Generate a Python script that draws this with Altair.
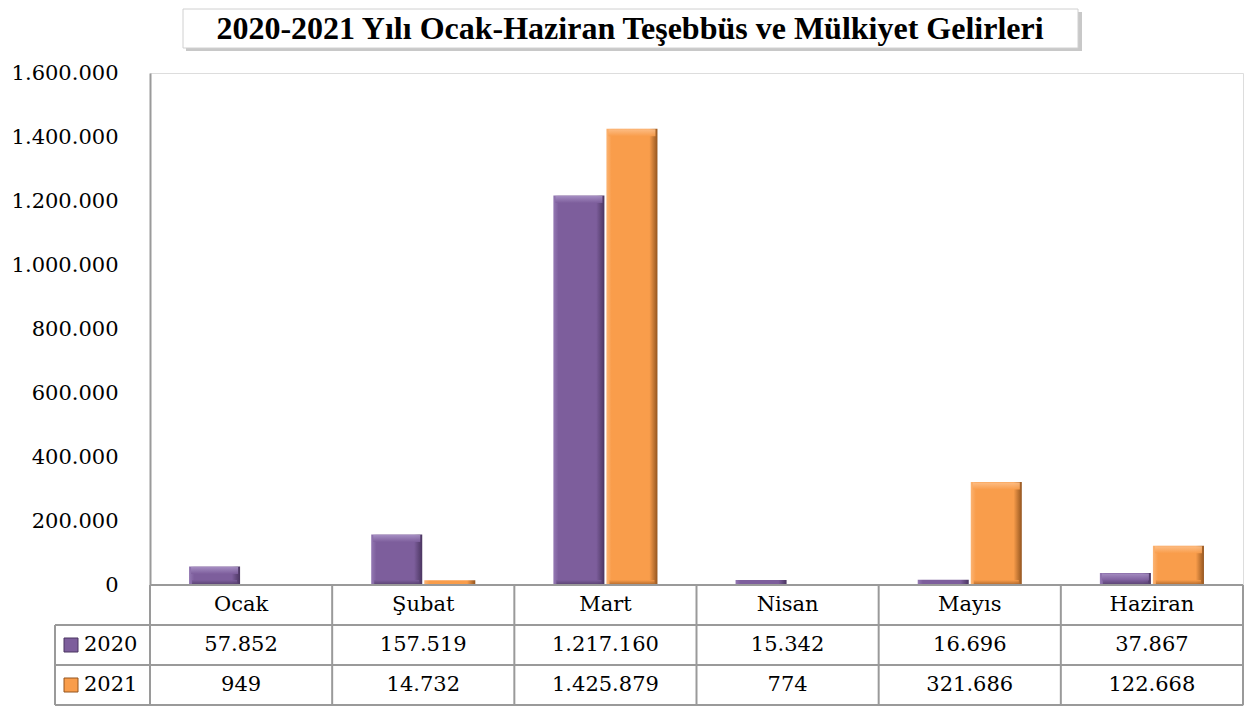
import altair as alt
import pandas as pd

months = ["Ocak", "Şubat", "Mart", "Nisan", "Mayıs", "Haziran"]
years = ["2020", "2021"]
v2020 = [57852, 157519, 1217160, 15342, 16696, 37867]
v2021 = [949, 14732, 1425879, 774, 321686, 122668]
y_ticks = [0, 200000, 400000, 600000, 800000, 1000000, 1200000, 1400000, 1600000]

PURPLE = "#7D5E9C"
ORANGE = "#F99D4B"
FONT = "DejaVu Serif"
GRID = "#9A9A9A"

W = 1093          # plot + table width
PH = 512          # bar plot height
ROW = 40          # table row height
H = PH + 3 * ROW  # total drawing height


def tr(v):
    return f"{v:,}".replace(",", ".")


rows = []
for m, a, b in zip(months, v2020, v2021):
    rows.append({"month": m, "year": "2020", "value": a, "label": tr(a)})
    rows.append({"month": m, "year": "2021", "value": b, "label": tr(b)})
df = pd.DataFrame(rows)
dm = pd.DataFrame({"month": months})
one = pd.DataFrame({"k": [0]})

xscale = alt.Scale(domain=months, paddingInner=0, paddingOuter=0)
xenc = alt.X("month:N", sort=months, scale=xscale, axis=None)
yscale = alt.Scale(domain=[0, 1600000], range=[PH, 0], nice=False, zero=True)
yenc = alt.Y("value:Q", scale=yscale,
             axis=alt.Axis(values=y_ticks,
                           labelExpr="replace(format(datum.value, ','), regexp(',', 'g'), '.')",
                           labelFont=FONT, labelFontSize=21, labelColor="black",
                           labelPadding=32, ticks=False, grid=False,
                           domainColor=GRID, domainWidth=2, title=None))
xoff = alt.XOffset("year:N",
                   scale=alt.Scale(domain=years, paddingInner=0.038, paddingOuter=0.736))


def hgrad(light, face, dark):
    return alt.LinearGradient(
        gradient="linear", x1=0, x2=1, y1=0, y2=0,
        stops=[alt.GradientStop(offset=0, color=light),
               alt.GradientStop(offset=0.1, color=face),
               alt.GradientStop(offset=0.84, color=face),
               alt.GradientStop(offset=1, color=dark)])


def vgrad(c1, c2):
    return alt.LinearGradient(
        gradient="linear", x1=0, x2=0, y1=0, y2=1,
        stops=[alt.GradientStop(offset=0, color=c1),
               alt.GradientStop(offset=1, color=c2)])


def bar_layers(year, light, face, dark, top, bottom):
    d = df[df.year == year]
    base = alt.Chart(d).mark_bar(color=hgrad(light, face, dark)).encode(
        x=xenc, y=yenc, xOffset=xoff)
    big = d[d.value > 35000]
    topb = alt.Chart(big).mark_tick(color=vgrad(top, face), thickness=7, size=47,
                                    opacity=0.9, orient="horizontal").encode(
        x=xenc, y=alt.Y("value:Q", scale=yscale), xOffset=xoff, yOffset=alt.value(4))
    botb = alt.Chart(big.assign(z=0)).mark_tick(color=vgrad(face, bottom), thickness=4,
                                                size=45, opacity=0.8,
                                                orient="horizontal").encode(
        x=xenc, y=alt.Y("z:Q", scale=yscale), xOffset=xoff, yOffset=alt.value(-3))
    return [base, topb, botb]


bars20 = bar_layers("2020", "#9479B3", PURPLE, "#4A3560", "#A992C6", "#57406F")
bars21 = bar_layers("2021", "#FBB474", ORANGE, "#94551F", "#FDC08A", "#B0672A")

# table texts
cat_txt = alt.Chart(dm).mark_text(font=FONT, fontSize=21, color="black").encode(
    x=xenc, y=alt.value(PH + ROW / 2), text="month:N")
t20 = alt.Chart(df[df.year == "2020"]).mark_text(font=FONT, fontSize=21, color="black").encode(
    x=xenc, y=alt.value(PH + ROW * 1.5), text="label:N")
t21 = alt.Chart(df[df.year == "2021"]).mark_text(font=FONT, fontSize=21, color="black").encode(
    x=xenc, y=alt.value(PH + ROW * 2.5), text="label:N")

hdr = pd.DataFrame({"year": years})
hdr_txt = alt.Chart(hdr[hdr.year == "2020"]).mark_text(
    font=FONT, fontSize=21, color="black", align="left").encode(
    x=alt.value(-66), y=alt.value(PH + ROW * 1.5), text="year:N")
hdr_txt2 = alt.Chart(hdr[hdr.year == "2021"]).mark_text(
    font=FONT, fontSize=21, color="black", align="left").encode(
    x=alt.value(-66), y=alt.value(PH + ROW * 2.5), text="year:N")
sw20 = alt.Chart(one).mark_square(size=196, fill=PURPLE, stroke="#4A3560",
                                  strokeWidth=1, opacity=1).encode(
    x=alt.value(-79), y=alt.value(PH + ROW * 1.5))
sw21 = alt.Chart(one).mark_square(size=196, fill=ORANGE, stroke="#94551F",
                                  strokeWidth=1, opacity=1).encode(
    x=alt.value(-79), y=alt.value(PH + ROW * 2.5))

# table grid
vlines = alt.Chart(dm).mark_rule(color=GRID, strokeWidth=2).encode(
    x=alt.X("month:N", sort=months, bandPosition=0, scale=xscale, axis=None),
    y=alt.value(PH), y2=alt.value(H))
rlines = [
    alt.Chart(one).mark_rule(color=GRID, strokeWidth=2).encode(
        x=alt.value(W), y=alt.value(PH), y2=alt.value(H)),
    alt.Chart(one).mark_rule(color=GRID, strokeWidth=2).encode(
        x=alt.value(-95), y=alt.value(PH + ROW), y2=alt.value(H)),
    alt.Chart(one).mark_rule(color=GRID, strokeWidth=2).encode(
        x=alt.value(0), x2=alt.value(W), y=alt.value(PH)),
    alt.Chart(one).mark_rule(color=GRID, strokeWidth=2).encode(
        x=alt.value(-95), x2=alt.value(W), y=alt.value(PH + ROW)),
    alt.Chart(one).mark_rule(color=GRID, strokeWidth=2).encode(
        x=alt.value(-95), x2=alt.value(W), y=alt.value(PH + 2 * ROW)),
    alt.Chart(one).mark_rule(color=GRID, strokeWidth=2).encode(
        x=alt.value(-95), x2=alt.value(W), y=alt.value(H)),
]

# title box
title_text = pd.DataFrame({"t": ["2020-2021 Yılı Ocak-Haziran Teşebbüs ve Mülkiyet Gelirleri"]})
shadow = alt.Chart(one).mark_rect(color="#C8C8C8", opacity=1).encode(
    x=alt.value(36), x2=alt.value(932), y=alt.value(-61), y2=alt.value(-22))
box = alt.Chart(one).mark_rect(fill="white", stroke="#D0D0D0", strokeWidth=1, opacity=1).encode(
    x=alt.value(33), x2=alt.value(928), y=alt.value(-64), y2=alt.value(-25))
ttl = alt.Chart(title_text).mark_text(font="Liberation Serif", fontSize=32, fontWeight="bold",
                                      color="black").encode(
    x=alt.value(480), y=alt.value(-44), text="t:N")

chart = alt.layer(
    shadow, box, ttl,
    *bars20, *bars21,
    *rlines, vlines,
    cat_txt, t20, t21, hdr_txt, hdr_txt2, sw20, sw21,
).properties(
    width=W, height=H,
    autosize=alt.AutoSizeParams(type="none"),
    padding={"left": 142, "top": 65, "right": 1, "bottom": 2},
).configure_view(stroke=None).configure(background="white")

chart.save("out.html", embed_options={"renderer": "svg", "actions": False})
